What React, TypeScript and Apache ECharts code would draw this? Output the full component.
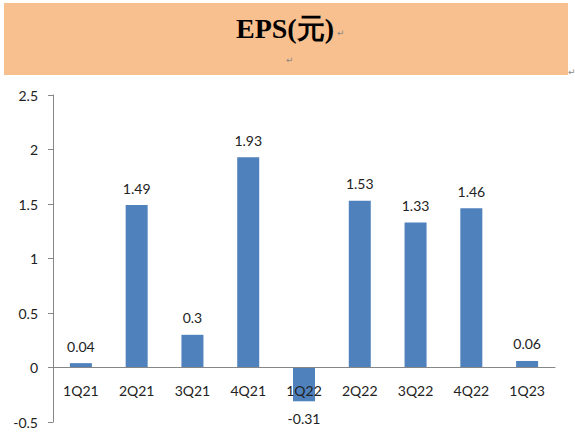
import { useEffect, useRef } from "react";
import * as echarts from "echarts";

const quarters = ["1Q21", "2Q21", "3Q21", "4Q21", "1Q22", "2Q22", "3Q22", "4Q22", "1Q23"];
const eps = [0.04, 1.49, 0.3, 1.93, -0.31, 1.53, 1.33, 1.46, 0.06];
const titleText = "EPS(元)";
const yMin = -0.5;
const yMax = 2.5;

const App = () => {
  const chartRef = useRef<HTMLDivElement>(null);

  useEffect(() => {
    if (!chartRef.current) return;
    const chart = echarts.init(chartRef.current, null, { renderer: "svg" });
    const font = "Lato, 'Open Sans', sans-serif";
    const top = 95;
    const bottom = 19;
    const plotH = 441 - top - bottom;
    // lift the category axis from the grid bottom up to the zero line
    const zeroOffset = -(plotH * (0 - yMin)) / (yMax - yMin);
    const mark = (x: number, y: number) => ({
      type: "text",
      x,
      y,
      silent: true,
      style: { text: "↵", font: "9px 'DejaVu Sans'", fill: "#888", verticalAlign: "middle" },
    });
    chart.setOption({
      animation: false,
      graphic: [
        {
          type: "rect",
          shape: { x: 4, y: 3, width: 564, height: 72 },
          style: { fill: "#F9C08F" },
          silent: true,
        },
        {
          type: "text",
          x: 285,
          y: 28,
          style: {
            text: titleText,
            font: "bold 28px 'Liberation Serif', 'Times New Roman', serif",
            fill: "#000",
            align: "center",
            verticalAlign: "middle",
          },
        },
        mark(337, 33),
        mark(286, 60),
        mark(568, 72),
      ],
      grid: { left: 53, right: 20, top, bottom, outerBoundsMode: "none" },
      xAxis: {
        type: "category",
        data: quarters,
        offset: zeroOffset,
        z: 5,
        axisLine: { onZero: false, lineStyle: { color: "#868686" } },
        axisTick: { length: 5, lineStyle: { color: "#868686" } },
        axisLabel: { color: "#222", fontSize: 14, fontFamily: font, margin: 16 },
      },
      yAxis: {
        type: "value",
        min: yMin,
        max: yMax,
        interval: 0.5,
        axisLine: { show: true, lineStyle: { color: "#868686" } },
        axisTick: { show: true, length: 5, lineStyle: { color: "#868686" } },
        splitLine: { show: false },
        axisLabel: { color: "#222", fontSize: 14, fontFamily: font, margin: 15 },
      },
      series: [
        {
          type: "bar",
          barWidth: 22,
          itemStyle: { color: "#4F81BD" },
          data: eps.map((v) => ({
            value: v,
            label: { position: v < 0 ? "bottom" : "top" },
          })),
          label: {
            show: true,
            distance: 10,
            color: "#222",
            fontSize: 14,
            fontFamily: font,
          },
        },
      ],
    });
    return () => {
      chart.dispose();
    };
  }, []);

  return (
    <div
      ref={chartRef}
      style={{ position: "absolute", left: 0, top: 0, width: "575px", height: "441px" }}
    ></div>
  );
};

export default App;
